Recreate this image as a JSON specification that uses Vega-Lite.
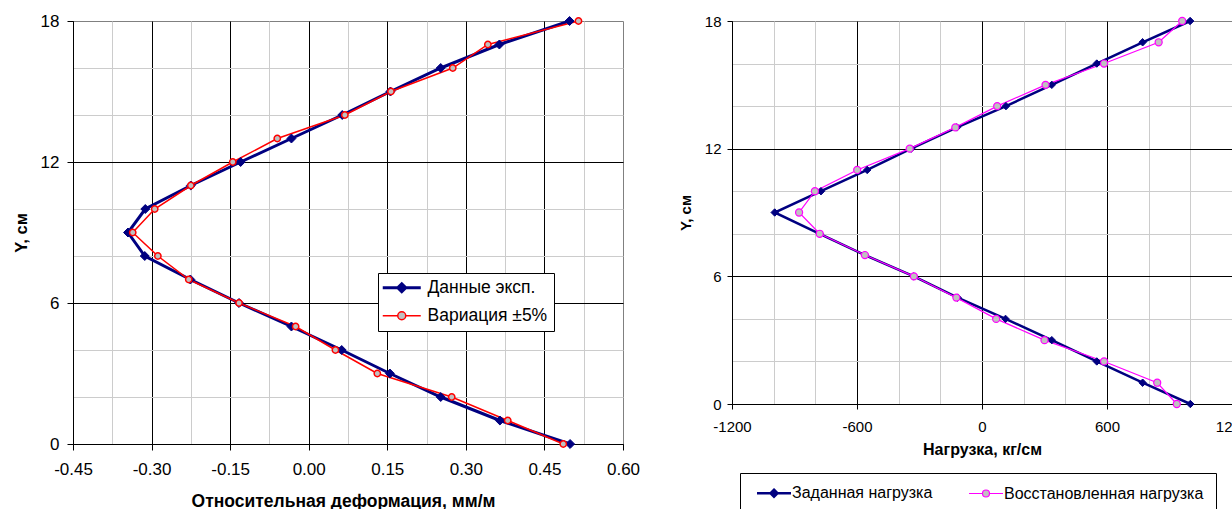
{
  "$schema": "https://vega.github.io/schema/vega-lite/v6.json",
  "background": "white",
  "padding": {"left": 12, "top": 11, "right": 0, "bottom": 0},
  "config": {
    "font": "Liberation Sans",
    "view": {"stroke": "#808080", "strokeWidth": 1},
    "axis": {"domainColor": "#000000", "gridWidth": 1, "labelColor": "#000000", "titleColor": "#000000", "tickColor": "#000000", "labelFont": "Liberation Sans", "titleFont": "Liberation Sans", "labelOverlap": false, "labelFlush": false, "titleFontWeight": "bold"},
    "concat": {"spacing": 36}
  },
  "resolve": {"scale": {"color": "independent", "strokeWidth": "independent"}, "legend": {"color": "independent"}},
  "hconcat": [
    {
      "width": 550,
      "height": 423,
      "data": {"values": [
        {"series": "Данные эксп.", "Y": 0, "value": 0.499},
        {"series": "Данные эксп.", "Y": 1, "value": 0.365},
        {"series": "Данные эксп.", "Y": 2, "value": 0.252},
        {"series": "Данные эксп.", "Y": 3, "value": 0.155},
        {"series": "Данные эксп.", "Y": 4, "value": 0.063},
        {"series": "Данные эксп.", "Y": 5, "value": -0.033},
        {"series": "Данные эксп.", "Y": 6, "value": -0.133},
        {"series": "Данные эксп.", "Y": 7, "value": -0.226},
        {"series": "Данные эксп.", "Y": 8, "value": -0.313},
        {"series": "Данные эксп.", "Y": 9, "value": -0.345},
        {"series": "Данные эксп.", "Y": 10, "value": -0.312},
        {"series": "Данные эксп.", "Y": 11, "value": -0.225},
        {"series": "Данные эксп.", "Y": 12, "value": -0.130},
        {"series": "Данные эксп.", "Y": 13, "value": -0.033},
        {"series": "Данные эксп.", "Y": 14, "value": 0.064},
        {"series": "Данные эксп.", "Y": 15, "value": 0.156},
        {"series": "Данные эксп.", "Y": 16, "value": 0.252},
        {"series": "Данные эксп.", "Y": 17, "value": 0.364},
        {"series": "Данные эксп.", "Y": 18, "value": 0.498},
        {"series": "Вариация ±5%", "Y": 0, "value": 0.486},
        {"series": "Вариация ±5%", "Y": 1, "value": 0.380},
        {"series": "Вариация ±5%", "Y": 2, "value": 0.273},
        {"series": "Вариация ±5%", "Y": 3, "value": 0.131},
        {"series": "Вариация ±5%", "Y": 4, "value": 0.051},
        {"series": "Вариация ±5%", "Y": 5, "value": -0.025},
        {"series": "Вариация ±5%", "Y": 6, "value": -0.133},
        {"series": "Вариация ±5%", "Y": 7, "value": -0.229},
        {"series": "Вариация ±5%", "Y": 8, "value": -0.288},
        {"series": "Вариация ±5%", "Y": 9, "value": -0.336},
        {"series": "Вариация ±5%", "Y": 10, "value": -0.294},
        {"series": "Вариация ±5%", "Y": 11, "value": -0.225},
        {"series": "Вариация ±5%", "Y": 12, "value": -0.145},
        {"series": "Вариация ±5%", "Y": 13, "value": -0.060},
        {"series": "Вариация ±5%", "Y": 14, "value": 0.069},
        {"series": "Вариация ±5%", "Y": 15, "value": 0.157},
        {"series": "Вариация ±5%", "Y": 16, "value": 0.275},
        {"series": "Вариация ±5%", "Y": 17, "value": 0.342},
        {"series": "Вариация ±5%", "Y": 18, "value": 0.515}
      ]},
      "encoding": {
        "x": {"field": "value", "type": "quantitative", "scale": {"domain": [-0.45, 0.6], "nice": false, "zero": false},
          "axis": {
            "values": [-0.45, -0.375, -0.3, -0.225, -0.15, -0.075, 0, 0.075, 0.15, 0.225, 0.3, 0.375, 0.45, 0.525, 0.6],
            "labelExpr": "abs(datum.value/0.15 - round(datum.value/0.15)) < 0.01 ? (datum.value < 0 ? '-' : '') + format(abs(datum.value), '.2f') : ''",
            "gridColor": {"condition": {"test": "abs(datum.value/0.15 - round(datum.value/0.15)) < 0.01", "value": "#000000"}, "value": "#cccccc"},
            "gridOpacity": {"condition": {"test": "datum.value > 0.59", "value": 0}, "value": 1},
            "tickOpacity": {"condition": {"test": "abs(datum.value/0.15 - round(datum.value/0.15)) < 0.01", "value": 1}, "value": 0},
            "tickSize": 6, "labelPadding": 11, "labelFontSize": 17,
            "title": "Относительная деформация, мм/м", "titleFontSize": 17.5, "titlePadding": 15, "titleX": 270
          }},
        "y": {"field": "Y", "type": "quantitative", "scale": {"domain": [0, 18], "nice": false},
          "axis": {
            "values": [0, 2, 4, 6, 8, 10, 12, 14, 16, 18],
            "labelExpr": "datum.value % 6 === 0 ? datum.label : ''",
            "gridColor": {"condition": {"test": "datum.value % 6 === 0", "value": "#000000"}, "value": "#cccccc"},
            "gridOpacity": {"condition": {"test": "datum.value > 17", "value": 0}, "value": 1},
            "tickOpacity": {"condition": {"test": "datum.value % 6 === 0", "value": 1}, "value": 0},
            "tickSize": 6, "labelPadding": 8, "labelFontSize": 17,
            "title": "Y, см", "titleFontSize": 16.5, "titlePadding": 11
          }}
      },
      "layer": [
        {
          "mark": {"type": "line"},
          "encoding": {
            "order": {"field": "Y", "type": "quantitative"},
            "strokeWidth": {"field": "series", "type": "nominal", "scale": {"domain": ["Данные эксп.", "Вариация ±5%"], "range": [3, 1.5]}, "legend": null},
            "color": {"field": "series", "type": "nominal", "scale": {"domain": ["Данные эксп.", "Вариация ±5%"], "range": ["#000080", "#FF0000"]},
              "legend": {
                "title": null, "orient": "none", "legendX": 305, "legendY": 252, "direction": "vertical",
                "fillColor": "white", "strokeColor": "#000000",
                "padding": 6, "rowPadding": 8,
                "labelFontSize": 17.5, "labelFont": "Liberation Sans", "labelColor": "#000000", "labelLimit": 300,
                "symbolSize": 100, "labelOffset": 26,
                "encode": {"symbols": {"update": {
                  "shape": {"signal": "datum.value === 'Данные эксп.' ? 'M-2,0L5.6,0M1.8,-0.8L2.6,0L1.8,0.8L1,0Z' : 'M-2,0L1,0M2.6,0L5.6,0M2.6,0A0.8,0.8,0,1,1,1,0A0.8,0.8,0,1,1,2.6,0Z'"},
                  "fill": {"signal": "datum.value === 'Данные эксп.' ? '#000080' : '#C0C0C0'"},
                  "stroke": {"signal": "datum.value === 'Данные эксп.' ? '#000080' : '#FF0000'"},
                  "strokeWidth": {"signal": "datum.value === 'Данные эксп.' ? 3 : 1.5"},
                  "size": {"signal": "100"},
                  "opacity": {"signal": "1"},
                  "fillOpacity": {"signal": "1"},
                  "strokeOpacity": {"signal": "1"}
                }}}
              }}
          }
        },
        {
          "transform": [{"filter": "datum.series === 'Данные эксп.'"}],
          "mark": {"type": "point", "shape": "diamond", "filled": true, "fill": "#000080", "stroke": "#000080", "strokeWidth": 1, "size": 80, "opacity": 1}
        },
        {
          "transform": [{"filter": "datum.series === 'Вариация ±5%'"}],
          "mark": {"type": "point", "shape": "circle", "filled": false, "fill": "#C0C0C0", "fillOpacity": 1, "stroke": "#FF0000", "strokeWidth": 1.5, "size": 40, "opacity": 1}
        }
      ]
    },
    {
      "width": 500,
      "height": 383,
      "data": {"values": [
        {"series": "Заданная нагрузка", "Y": 0, "value": 1000},
        {"series": "Заданная нагрузка", "Y": 1, "value": 771},
        {"series": "Заданная нагрузка", "Y": 2, "value": 551},
        {"series": "Заданная нагрузка", "Y": 3, "value": 335},
        {"series": "Заданная нагрузка", "Y": 4, "value": 113},
        {"series": "Заданная нагрузка", "Y": 5, "value": -117},
        {"series": "Заданная нагрузка", "Y": 6, "value": -327},
        {"series": "Заданная нагрузка", "Y": 7, "value": -562},
        {"series": "Заданная нагрузка", "Y": 8, "value": -779},
        {"series": "Заданная нагрузка", "Y": 9, "value": -995},
        {"series": "Заданная нагрузка", "Y": 10, "value": -773},
        {"series": "Заданная нагрузка", "Y": 11, "value": -551},
        {"series": "Заданная нагрузка", "Y": 12, "value": -340},
        {"series": "Заданная нагрузка", "Y": 13, "value": -120},
        {"series": "Заданная нагрузка", "Y": 14, "value": 115},
        {"series": "Заданная нагрузка", "Y": 15, "value": 335},
        {"series": "Заданная нагрузка", "Y": 16, "value": 551},
        {"series": "Заданная нагрузка", "Y": 17, "value": 771},
        {"series": "Заданная нагрузка", "Y": 18, "value": 999},
        {"series": "Восстановленная нагрузка", "Y": 0, "value": 935},
        {"series": "Восстановленная нагрузка", "Y": 1, "value": 841},
        {"series": "Восстановленная нагрузка", "Y": 2, "value": 586},
        {"series": "Восстановленная нагрузка", "Y": 3, "value": 300},
        {"series": "Восстановленная нагрузка", "Y": 4, "value": 68},
        {"series": "Восстановленная нагрузка", "Y": 5, "value": -123},
        {"series": "Восстановленная нагрузка", "Y": 6, "value": -327},
        {"series": "Восстановленная нагрузка", "Y": 7, "value": -562},
        {"series": "Восстановленная нагрузка", "Y": 8, "value": -779},
        {"series": "Восстановленная нагрузка", "Y": 9, "value": -878},
        {"series": "Восстановленная нагрузка", "Y": 10, "value": -802},
        {"series": "Восстановленная нагрузка", "Y": 11, "value": -599},
        {"series": "Восстановленная нагрузка", "Y": 12, "value": -347},
        {"series": "Восстановленная нагрузка", "Y": 13, "value": -128},
        {"series": "Восстановленная нагрузка", "Y": 14, "value": 73},
        {"series": "Восстановленная нагрузка", "Y": 15, "value": 305},
        {"series": "Восстановленная нагрузка", "Y": 16, "value": 586},
        {"series": "Восстановленная нагрузка", "Y": 17, "value": 848},
        {"series": "Восстановленная нагрузка", "Y": 18, "value": 961}
      ]},
      "encoding": {
        "x": {"field": "value", "type": "quantitative", "scale": {"domain": [-1200, 1200], "nice": false, "zero": false},
          "axis": {
            "values": [-1200, -1000, -800, -600, -400, -200, 0, 200, 400, 600, 800, 1000, 1200],
            "labelExpr": "datum.value % 600 === 0 ? '' + datum.value : ''",
            "gridColor": {"condition": {"test": "datum.value % 600 === 0", "value": "#000000"}, "value": "#cccccc"},
            "tickOpacity": {"condition": {"test": "datum.value % 600 === 0", "value": 1}, "value": 0},
            "tickSize": 5, "labelPadding": 10, "labelFontSize": 15,
            "title": "Нагрузка, кг/см", "titleFontSize": 16, "titlePadding": 7
          }},
        "y": {"field": "Y", "type": "quantitative", "scale": {"domain": [0, 18], "nice": false},
          "axis": {
            "values": [0, 2, 4, 6, 8, 10, 12, 14, 16, 18],
            "labelExpr": "datum.value % 6 === 0 ? datum.label : ''",
            "gridColor": {"condition": {"test": "datum.value % 6 === 0", "value": "#000000"}, "value": "#cccccc"},
            "gridOpacity": {"condition": {"test": "datum.value > 17", "value": 0}, "value": 1},
            "tickOpacity": {"condition": {"test": "datum.value % 6 === 0", "value": 1}, "value": 0},
            "tickSize": 5, "labelPadding": 6, "labelFontSize": 15,
            "title": "Y, см", "titleFontSize": 15, "titlePadding": 11
          }}
      },
      "layer": [
        {
          "mark": {"type": "line"},
          "encoding": {
            "order": {"field": "Y", "type": "quantitative"},
            "strokeWidth": {"field": "series", "type": "nominal", "scale": {"domain": ["Заданная нагрузка", "Восстановленная нагрузка"], "range": [2.5, 1.2]}, "legend": null},
            "color": {"field": "series", "type": "nominal", "scale": {"domain": ["Заданная нагрузка", "Восстановленная нагрузка"], "range": ["#000080", "#FF00FF"]},
              "legend": {
                "title": null, "orient": "none", "legendX": 8, "legendY": 452, "direction": "horizontal",
                "fillColor": "white", "strokeColor": "#000000",
                "padding": 12, "columnPadding": 31,
                "labelFontSize": 16, "labelFont": "Liberation Sans", "labelColor": "#000000", "labelLimit": 400,
                "symbolSize": 100, "labelOffset": 24,
                "encode": {"symbols": {"update": {
                  "shape": {"signal": "datum.value === 'Заданная нагрузка' ? 'M-0.6,0L6.2,0M2.8,-0.7L3.5,0L2.8,0.7L2.1,0Z' : 'M-0.6,0L2.1,0M3.5,0L6.2,0M3.5,0A0.7,0.7,0,1,1,2.1,0A0.7,0.7,0,1,1,3.5,0Z'"},
                  "fill": {"signal": "datum.value === 'Заданная нагрузка' ? '#000080' : '#C0C0C0'"},
                  "stroke": {"signal": "datum.value === 'Заданная нагрузка' ? '#000080' : '#FF00FF'"},
                  "strokeWidth": {"signal": "datum.value === 'Заданная нагрузка' ? 2.5 : 1.2"},
                  "size": {"signal": "100"},
                  "opacity": {"signal": "1"},
                  "fillOpacity": {"signal": "1"},
                  "strokeOpacity": {"signal": "1"}
                }}}
              }}
          }
        },
        {
          "transform": [{"filter": "datum.series === 'Заданная нагрузка'"}],
          "mark": {"type": "point", "shape": "diamond", "filled": true, "fill": "#000080", "stroke": "#000080", "strokeWidth": 1, "size": 55, "opacity": 1}
        },
        {
          "transform": [{"filter": "datum.series === 'Восстановленная нагрузка'"}],
          "mark": {"type": "point", "shape": "circle", "filled": false, "fill": "#C0C0C0", "fillOpacity": 1, "stroke": "#FF00FF", "strokeWidth": 1.2, "size": 50, "opacity": 1}
        }
      ]
    }
  ]
}
